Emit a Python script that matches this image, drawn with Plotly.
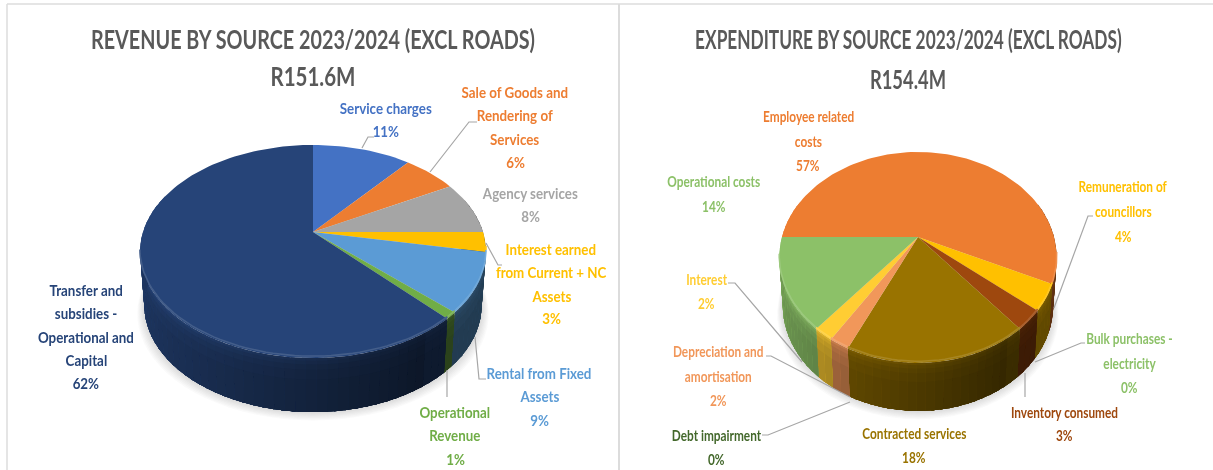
import math
import plotly.graph_objects as go

# ---- data ----
rev_title = ["REVENUE BY SOURCE 2023/2024 (EXCL ROADS)", "R151.6M"]
rev_labels = [
    ["Service charges"],
    ["Sale of Goods and", "Rendering of", "Services"],
    ["Agency services"],
    ["Interest earned", "from Current + NC", "Assets"],
    ["Rental from Fixed", "Assets"],
    ["Operational", "Revenue"],
    ["Transfer and", "subsidies -", "Operational and", "Capital"],
]
rev_values = [11, 6, 8, 3, 9, 1, 62]
rev_colors = ["#4472C4", "#ED7D31", "#A5A5A5", "#FFC000", "#5B9BD5", "#70AD47", "#264478"]
rev_text = ["#4472C4", "#ED7D31", "#A5A5A5", "#FFC000", "#5B9BD5", "#70AD47", "#264478"]

exp_title = ["EXPENDITURE BY SOURCE 2023/2024 (EXCL ROADS)", "R154.4M"]
exp_labels = [
    ["Employee related", "costs"],
    ["Remuneration of", "councillors"],
    ["Bulk purchases -", "electricity"],
    ["Inventory consumed"],
    ["Contracted services"],
    ["Debt impairment"],
    ["Depreciation and", "amortisation"],
    ["Interest"],
    ["Operational costs"],
]
exp_values = [57, 4, 0, 3, 18, 0, 2, 2, 14]
exp_colors = ["#ED7D31", "#FFC000", "#8CC168", "#9E480E", "#997300", "#43682B", "#F1975A", "#FFCD33", "#8CC168"]
exp_text = ["#ED7D31", "#FFC000", "#8CC168", "#9E480E", "#997300", "#43682B", "#F1975A", "#FFCD33", "#8CC168"]

# ---- layout of the two pies: perspective disc parameters ----
REV_GEOM = dict(x0=313, y0=232, A=103, B=170, k=0.183, depth=54, start=0)
EXP_GEOM = dict(x0=918, y0=237, A=101.5, B=136, k=0.194, depth=48, start=270)

REV_POS = [(386, [108]), (515, [92, 115, 139]), (530, [193]), (551, [249, 272, 296]),
           (539, [373, 396]), (455, [412, 435]), (86, [290, 313, 337, 360])]
REV_PCT_Y = [131, 162, 216, 318, 420, 459, 383]
EXP_POS = [(808, [115, 140]), (1123, [185, 210]), (1129, [337, 362]), (1064, [411]),
           (914, [432]), (716, [434]), (718, [350, 375]), (706, [278]), (714, [180])]
EXP_PCT_Y = [164, 235, 386, 434, 456, 458, 399, 302, 205]

REV_LEADERS = [[(374, 137), (368, 137), (362, 148)],
               [(477, 122), (469, 122), (430, 172)],
               [(502, 265), (498, 265), (486, 243)],
               [(486, 379), (479, 379), (475, 337)],
               [(447, 397), (447, 370)]]
EXP_LEADERS = [[(1093, 216), (1088, 216), (1054, 308)],
               [(728, 283), (735, 283), (802, 362)],
               [(766, 356), (771, 356), (850, 397)],
               [(762, 435), (768, 435), (850, 402)],
               [(1085, 343), (1081, 343), (1035, 362)],
               [(1025, 397), (1025, 373)]]

FONT = "Lato"
GREY = "#595959"
LEADER = "#a6a6a6"
REV_LABEL_SIZE = 15
EXP_LABEL_SIZE = 16
TITLE_SIZE = 27


def rgb(c):
    return tuple(int(c[i:i + 2], 16) for i in (1, 3, 5))


def shaded(c, f):
    r = rgb(c)
    if f <= 1:
        out = [v * f for v in r]
    else:
        out = [v + (255 - v) * (f - 1) for v in r]
    return "rgb(%d,%d,%d)" % tuple(out)


def rim(g, a, t=0.0):
    """screen position of disc edge at clockwise angle a (deg) and depth fraction t"""
    u, v = math.sin(math.radians(a)), math.cos(math.radians(a))
    w = 1 + g["k"] * v
    s = 1 - 0.025 * t
    return (g["x0"] + g["B"] * u / w * s, g["y0"] - g["A"] * v / w + g["depth"] * t)


def wall_shade(u):
    f = 0.82 - 0.30 * (u + 1)
    if u > 0.55:
        f = max(f, 0.40)
    return f


def poly(fig, xs, ys, color):
    fig.add_trace(go.Scatter(x=xs + xs[:1], y=ys + ys[:1], mode="lines", fill="toself",
                             fillcolor=color, line=dict(width=0),
                             hoverinfo="skip", showlegend=False))


def draw_pie(fig, g, values, colors):
    total = sum(values)
    # soft shadow under the disc
    angs = list(range(0, 360, 4))
    for i in range(7):
        pts = [rim(g, a, 1) for a in angs]
        grow = 1.0 + 0.006 * (7 - i)
        xs = [g["x0"] + (p[0] - g["x0"]) * grow for p in pts]
        ys = [p[1] + (7 - i) * 1.2 for p in pts]
        poly(fig, xs, ys, "rgba(120,120,120,0.035)")
    spans = []
    a = g["start"]
    for val, col in zip(values, colors):
        if val > 0:
            spans.append((a, a + 360.0 * val / total, col))
        a += 360.0 * val / total
    # walls, each strip overlapping the next so no seams appear
    bands = [(0.0, 1.22), (0.05, 1.12), (0.12, 1.05), (0.22, 1.0), (0.4, 0.96)]
    for s, e, col in spans:
        n = max(1, int((e - s) / 3))
        for i in range(n):
            a1 = s + (e - s) * i / n
            a2 = s + (e - s) * (i + 1) / n
            mid = (a1 + a2) / 2
            if math.cos(math.radians(mid)) > 0.35:
                continue
            f = wall_shade(math.sin(math.radians(mid)))
            steps = [a1 + (a2 + 1.0 - a1) * j / 3 for j in range(4)] if i < n - 1 else \
                    [a1 + (a2 - a1) * j / 3 for j in range(4)]
            for t1, m in bands:
                p = [rim(g, q, t1) for q in steps] + [rim(g, q, 1) for q in reversed(steps)]
                poly(fig, [q[0] for q in p], [q[1] for q in p], shaded(col, f * m))
    # top faces
    for s, e, col in spans:
        n = max(2, int((e - s) / 2))
        angles = [s + (e - s) * i / n for i in range(n + 1)]
        pts = [rim(g, q) for q in angles]
        xs = [g["x0"]] + [p[0] for p in pts]
        ys = [g["y0"]] + [p[1] for p in pts]
        poly(fig, xs, ys, col)
    for s, e, col in spans:
        n = max(2, int((e - s) / 2))
        angles = [s + (e - s) * i / n for i in range(n + 1)]
        # bevel highlight along the front edge only
        b = [q for q in angles if math.cos(math.radians(q)) < -0.15]
        if len(b) > 1:
            hp = [rim(g, q, -0.035) for q in b]
            fig.add_trace(go.Scatter(x=[p[0] for p in hp], y=[p[1] for p in hp], mode="lines",
                                     line=dict(color=shaded(col, 1.14), width=1.6),
                                     hoverinfo="skip", showlegend=False))


def add_text(fig, x, y, text, color, size):
    fig.add_annotation(x=x, y=y, xref="x", yref="y", text="<b>%s</b>" % text,
                       showarrow=False, xanchor="center", yanchor="middle",
                       font=dict(family=FONT, size=size, color=color))


fig = go.Figure()
draw_pie(fig, REV_GEOM, rev_values, rev_colors)
draw_pie(fig, EXP_GEOM, exp_values, exp_colors)

for leader in REV_LEADERS + EXP_LEADERS:
    fig.add_trace(go.Scatter(x=[p[0] for p in leader], y=[p[1] for p in leader], mode="lines",
                             line=dict(color=LEADER, width=1.2), hoverinfo="skip", showlegend=False))

for labels, values, colors, pos, pct_y, size in [
        (rev_labels, rev_values, rev_text, REV_POS, REV_PCT_Y, REV_LABEL_SIZE),
        (exp_labels, exp_values, exp_text, EXP_POS, EXP_PCT_Y, EXP_LABEL_SIZE)]:
    for lab, val, col, (x, ys), py in zip(labels, values, colors, pos, pct_y):
        for line, y in zip(lab, ys):
            add_text(fig, x, y, line, col, size)
        add_text(fig, x, py, "%d%%" % val, col, size)

add_text(fig, 313, 38, rev_title[0], GREY, TITLE_SIZE)
add_text(fig, 313, 75, rev_title[1], GREY, TITLE_SIZE)
add_text(fig, 908, 38, exp_title[0], GREY, TITLE_SIZE)
add_text(fig, 908, 78, exp_title[1], GREY, TITLE_SIZE)

frame = [dict(x0=7, x1=1213, y0=4, y1=4, w=1.5), dict(x0=7, x1=7, y0=4, y1=470, w=1.5),
         dict(x0=619, x1=619, y0=4, y1=470, w=2)]
shapes = [dict(type="line", xref="x", yref="y", x0=f["x0"], x1=f["x1"], y0=f["y0"], y1=f["y1"],
               line=dict(color="#dcdcdc", width=f["w"]), layer="below") for f in frame]

fig.update_layout(
    width=1213, height=470, margin=dict(l=0, r=0, t=0, b=0), showlegend=False,
    paper_bgcolor="white", plot_bgcolor="white", shapes=shapes,
    xaxis=dict(range=[0, 1213], visible=False, fixedrange=True),
    yaxis=dict(range=[470, 0], visible=False, fixedrange=True),
)
squeeze_js = """
document.body.style.margin='0';
document.documentElement.style.overflow='hidden';
document.querySelectorAll('.svg-container').forEach(function(c){c.style.filter='blur(0.4px)';});
var titleFit = {'REVENUE BY SOURCE 2023/2024 (EXCL ROADS)':0.733, 'R151.6M':0.76,
                'EXPENDITURE BY SOURCE 2023/2024 (EXCL ROADS)':0.64, 'R154.4M':0.68};
document.querySelectorAll('text.annotation-text').forEach(function(t){
  var bb = t.getBBox();
  var cx = bb.x + bb.width/2;
  var fs = parseFloat(t.style.fontSize);
  var sx = titleFit[t.textContent] || (fs > 15.5 ? 0.74 : 0.89);
  t.setAttribute('transform','translate('+cx+',0) scale('+sx+',1) translate('+(-cx)+',0)');
});
"""
fig.write_html("out.html", config=dict(displayModeBar=False), post_script=squeeze_js)
